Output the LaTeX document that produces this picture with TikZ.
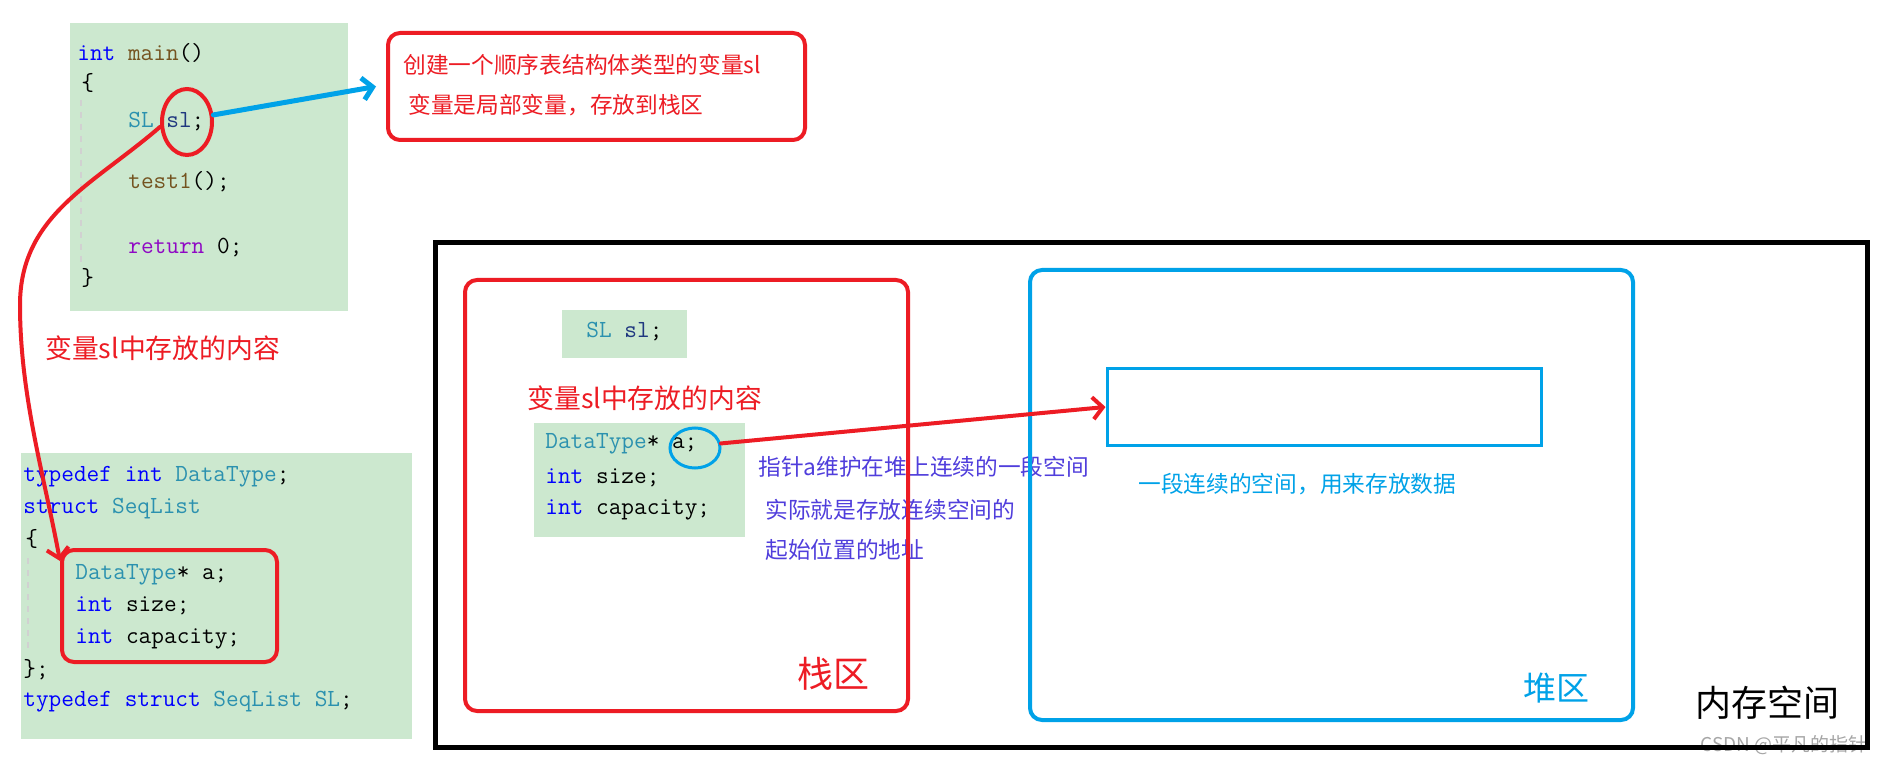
\documentclass[tikz,border=0pt]{standalone}
\usepackage{fontspec}
\newfontfamily\cjk{Noto Sans CJK SC}
\usetikzlibrary{arrows.meta, shapes.geometric}

\definecolor{myred}{HTML}{ED1C24}
\definecolor{myblue}{HTML}{00A2E8}
\definecolor{codegreen}{HTML}{CCE8CF}
\definecolor{kwblue}{HTML}{0000FF}
\definecolor{tyteal}{HTML}{2B91AF}
\definecolor{fnbrown}{HTML}{74531F}
\definecolor{retpurple}{HTML}{8F08C4}
\definecolor{varblue}{HTML}{1F377F}
\definecolor{ptrtext}{RGB}{80,62,220}

\newcommand{\ckw}[1]{\textcolor{kwblue}{#1}}
\newcommand{\cty}[1]{\textcolor{tyteal}{#1}}
\newcommand{\cfn}[1]{\textcolor{fnbrown}{#1}}
\newcommand{\cret}[1]{\textcolor{retpurple}{#1}}
\newcommand{\cvar}[1]{\textcolor{varblue}{#1}}

\tikzset{
    code/.style={
        anchor=west,
        inner sep=0pt,
        text height=8.5pt,
        text depth=2.5pt,
        font=\ttfamily\fontsize{12.3pt}{14pt}\selectfont
    },
    note/.style={
        anchor=west,
        inner sep=0pt,
        font=\cjk\fontsize{11.35pt}{13pt}\selectfont
    },
    greenbox/.style={
        fill=codegreen,
        inner sep=0pt
    },
    redframe/.style={
        draw=myred,
        line width=2pt,
        rounded corners=6pt,
        inner sep=0pt
    },
    guide/.style={
        draw=black!18,
        dashed,
        line width=1pt
    }
}

\begin{document}
\begin{tikzpicture}[x=0.5pt, y=-0.5pt]
    \fill[white] (0,0) rectangle (1884,764);
    \useasboundingbox (0,0) rectangle (1884,764);

    % Code boxes
    \node (mainbox) [greenbox, minimum width=139pt, minimum height=144pt] at (209,167) {};
    \node (structbox) [greenbox, minimum width=195.5pt, minimum height=143pt] at (216.5,596) {};
    \node (slbox) [greenbox, minimum width=62.5pt, minimum height=24pt] at (624.5,334) {};
    \node (fieldbox) [greenbox, minimum width=105.5pt, minimum height=57pt] at (639.5,480) {};
    \draw [guide] (81,100) -- (81,265);
    \draw [guide] (28,558) -- (28,652);

    % main()
    \node (ln1) [code] at (77,55) {\ckw{int} \cfn{main}()};
    \node (ln2) [code] at (81,85) {\{};
    \node (ln3) [code] at (128,122) {\cty{SL} \cvar{sl};};
    \node (ln4) [code] at (128,183) {\cfn{test1}();};
    \node (ln5) [code] at (128,248) {\cret{return} 0;};
    \node (ln6) [code] at (81,280) {\}};

    % struct
    \node (sd1) [code] at (23,475) {\ckw{typedef} \ckw{int} \cty{DataType};};
    \node (sd2) [code] at (23,507) {\ckw{struct} \cty{SeqList}};
    \node (sd3) [code] at (25,540) {\{};
    \node (sd4) [code] at (75,573) {\cty{DataType}* a;};
    \node (sd5) [code] at (75,605) {\ckw{int} size;};
    \node (sd6) [code] at (75,637) {\ckw{int} capacity;};
    \node (sd7) [code] at (23,670) {\};};
    \node (sd8) [code] at (23,700) {\ckw{typedef} \ckw{struct} \cty{SeqList} \cty{SL};};

    % stack contents
    \node (st1) [code] at (586,332) {\cty{SL} \cvar{sl};};
    \node (fd1) [code] at (545,443) {\cty{DataType}* a;};
    \node (fd2) [code] at (545,477) {\ckw{int} size;};
    \node (fd3) [code] at (545,508) {\ckw{int} capacity;};

    % Notes
    \node (note1) [note, text=myred] at (403,65) {创建一个顺序表结构体类型的变量sl};
    \node (note2) [note, text=myred] at (408,105) {变量是局部变量，存放到栈区};
    \node (content) [note, text=myred, font=\cjk\fontsize{13.4pt}{15pt}\selectfont] at (45,348) {变量sl中存放的内容};
    \node (content2) [note, text=myred, font=\cjk\fontsize{13.4pt}{15pt}\selectfont] at (527,398) {变量sl中存放的内容};
    \node (ptr1) [note, text=ptrtext] at (758,467) {指针a维护在堆上连续的一段空间};
    \node (ptr2) [note, text=ptrtext] at (765,510) {实际就是存放连续空间的};
    \node (ptr3) [note, text=ptrtext] at (765,550) {起始位置的地址};
    \node (heaptext) [note, text=myblue] at (1138,484) {一段连续的空间，用来存放数据};
    \node (stacklbl) [note, text=myred, font=\cjk\fontsize{18pt}{20pt}\selectfont] at (797,674) {栈区};
    \node (heaplbl) [note, text=myblue, font=\cjk\fontsize{16.5pt}{18pt}\selectfont] at (1523,688) {堆区};
    \node (memlbl) [note, font=\cjk\fontsize{18pt}{20pt}\selectfont] at (1695,703) {内存空间};
    \node (mark) [note, anchor=east, text=black!35, font=\cjk\fontsize{9.5pt}{11pt}\selectfont] at (1868,745) {CSDN @平凡的指针};

    % Frames
    \node (frame) [draw=black, line width=2.5pt, inner sep=0pt, minimum width=716pt, minimum height=252pt] at (1151,495) {};
    \node (stack) [redframe, minimum width=221.5pt, minimum height=215.5pt] at (686.5,495.5) {};
    \node (heap) [redframe, draw=myblue, minimum width=301.5pt, minimum height=225pt] at (1331.5,495) {};
    \node (block) [draw=myblue, line width=1.5pt, inner sep=0pt, minimum width=217pt, minimum height=38pt] at (1324,407) {};
    \node (notebox) [redframe, minimum width=208.5pt, minimum height=53.5pt] at (596.5,86.5) {};
    \node (members) [redframe, minimum width=107.5pt, minimum height=56pt] at (169.5,606) {};
    \node (slmark) [ellipse, draw=myred, line width=2pt, inner sep=0pt, minimum width=25pt, minimum height=33pt] at (187,122) {};
    \node (aring) [ellipse, draw=myblue, line width=1.5pt, inner sep=0pt, minimum width=25pt, minimum height=20pt] at (695,448) {};

    % Arrows
    \coordinate (bend) at (20,305);
    \draw [-{Straight Barb[length=5pt, width=11pt]}, line width=2.5pt, line cap=round, color=myblue]
        (slmark.15) -- ([xshift=-5pt]notebox.west);
    \draw [-{Straight Barb[length=5pt, width=11pt]}, line width=2pt, line cap=round, color=myred]
        (slmark.190) .. controls (93,185) and (20,215) .. (bend)
        .. controls (20,395) and (44,475) .. ([yshift=-6.5pt]members.north west);
    \draw [-{Straight Barb[length=5pt, width=11pt]}, line width=2pt, line cap=round, color=myred]
        (aring.10) -- (block.west);
\end{tikzpicture}
\end{document}
